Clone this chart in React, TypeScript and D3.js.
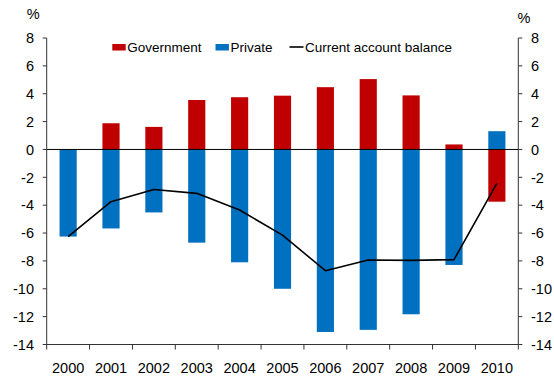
import React from "react";
import * as d3 from "d3";

const years = ["2000","2001","2002","2003","2004","2005","2006","2007","2008","2009","2010"];
const government = [0, 1.88, 1.62, 3.55, 3.75, 3.86, 4.47, 5.05, 3.88, 0.36, -3.75];
const privateSector = [-6.25, -5.67, -4.52, -6.69, -8.1, -10.0, -13.1, -12.95, -11.83, -8.29, 1.31];
const currentAccount = [-6.25, -3.75, -2.87, -3.15, -4.35, -6.15, -8.7, -7.94, -7.96, -7.91, -2.44];
const yTicks = [8, 6, 4, 2, 0, -2, -4, -6, -8, -10, -12, -14];

const W = 554, H = 376;
const left = 46.7, right = 518.3, top = 38, bottom = 344.5;
const RED = "#C00000";
const BLUE = "#0070C0";
const FONT = "'Liberation Sans', Arial, sans-serif";

export default function App() {
  const x = d3.scaleBand<string>().domain(years).range([left, right]).padding(0);
  const y = d3.scaleLinear().domain([-14, 8]).range([bottom, top]);
  const bw = x.bandwidth() * 0.4;
  const cx = (yr: string) => (x(yr) as number) + x.bandwidth() / 2;
  const line = d3.line<number>().x((_, i) => cx(years[i])).y((d) => y(d));
  const boundaries = years.map((yr) => x(yr) as number).concat([right]);

  return (
    <svg width={W} height={H} style={{ position: "absolute", left: 0, top: 0, background: "#fff" }} fontFamily={FONT}>
      {/* bars */}
      {years.map((yr, i) => {
        const g = government[i];
        const p = privateSector[i];
        return (
          <g key={yr}>
            {g !== 0 && (
              <rect x={cx(yr) - bw / 2} width={bw} y={y(Math.max(0, g))} height={Math.abs(y(g) - y(0))} fill={RED} />
            )}
            <rect x={cx(yr) - bw / 2} width={bw} y={y(Math.max(0, p))} height={Math.abs(y(p) - y(0))} fill={BLUE} />
          </g>
        );
      })}
      {/* zero line */}
      <line x1={left} x2={right} y1={y(0)} y2={y(0)} stroke="#000" strokeWidth={1} />
      {/* current account line */}
      <path d={line(currentAccount) || ""} fill="none" stroke="#000" strokeWidth={1.6} strokeLinejoin="round" />
      {/* axes */}
      <line x1={left} x2={left} y1={top} y2={bottom} stroke="#333" strokeWidth={1} />
      <line x1={right} x2={right} y1={top} y2={bottom} stroke="#333" strokeWidth={1} />
      <line x1={left} x2={right} y1={bottom} y2={bottom} stroke="#333" strokeWidth={1} />
      {yTicks.map((t) => (
        <g key={t}>
          <line x1={left - 4} x2={left} y1={y(t)} y2={y(t)} stroke="#333" />
          <line x1={right} x2={right + 4} y1={y(t)} y2={y(t)} stroke="#333" />
          <text x={34} y={y(t)} dy="0.36em" textAnchor="end" fontSize={14.5} fill="#000">{t}</text>
          <text x={531} y={y(t)} dy="0.36em" textAnchor="start" fontSize={14.5} fill="#000">{t}</text>
        </g>
      ))}
      {boundaries.map((b, i) => (
        <line key={i} x1={b} x2={b} y1={bottom} y2={bottom + 5} stroke="#333" />
      ))}
      {years.map((yr) => (
        <text key={yr} x={cx(yr)} y={373} textAnchor="middle" fontSize={14.5} fill="#000">{yr}</text>
      ))}
      <text x={33.3} y={19} textAnchor="middle" fontSize={14.5}>%</text>
      <text x={517.5} y={23} textAnchor="start" fontSize={14.5}>%</text>
      {/* legend */}
      <rect x={112.3} y={44} width={13.4} height={6.5} fill={RED} />
      <text x={127.3} y={52.3} fontSize={13.5}>Government</text>
      <rect x={215.5} y={44} width={13.4} height={6.5} fill={BLUE} />
      <text x={230.5} y={52.3} fontSize={13.5}>Private</text>
      <line x1={289.5} x2={303.5} y1={47} y2={47} stroke="#000" strokeWidth={1.6} />
      <text x={305} y={52.3} fontSize={13.5}>Current account balance</text>
    </svg>
  );
}
